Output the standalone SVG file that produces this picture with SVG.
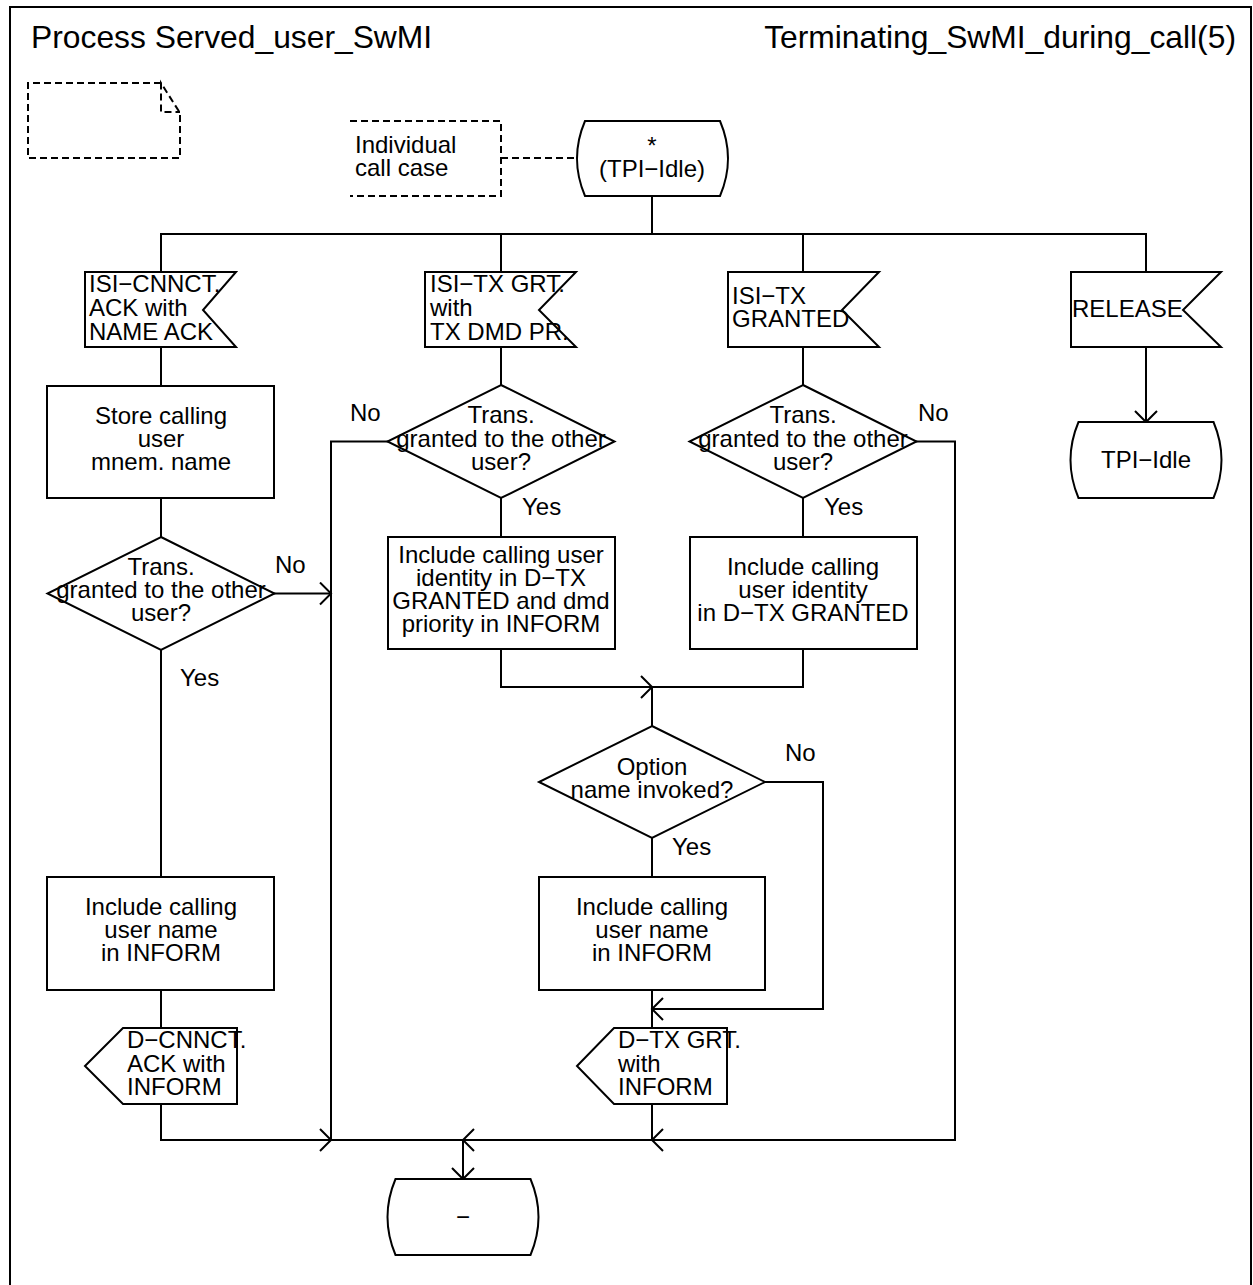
<svg xmlns="http://www.w3.org/2000/svg" width="1253" height="1285" viewBox="0 0 1253 1285">
<style>
.s{fill:#fff;stroke:#000;stroke-width:2}
.c{fill:none;stroke:#000;stroke-width:2}
.d{fill:none;stroke:#000;stroke-width:2;stroke-dasharray:7,4}
text{font-family:"Liberation Sans",Arial,Helvetica,sans-serif;font-size:24px;fill:#000}
.m{text-anchor:middle}
.t{font-size:31.8px}
</style>
<defs>
<marker id="a" viewBox="0 0 24 24" refX="12" refY="12" markerWidth="24" markerHeight="24" markerUnits="userSpaceOnUse" orient="auto">
<path d="M1,1 L12,12 L1,23" fill="none" stroke="#000" stroke-width="2"/>
</marker>
</defs>
<rect x="10" y="7" width="1241" height="1300" fill="#fff" stroke="#000" stroke-width="2"/>
<text class="t" x="31" y="48">Process Served_user_SwMI</text>
<text class="t" x="1236" y="48" text-anchor="end">Terminating_SwMI_during_call(5)</text>

<g id="textsym">
<path class="d" d="M161,83 H28 V158 H180 V113 L161,83 V112 H180"/>
</g>
<g id="comment">
<path class="d" d="M350,121 H501 V196 H350"/>
<text x="355" y="153">Individual</text>
<text x="355" y="176">call case</text>
</g>

<g id="connectors">
<path class="d" d="M501,158 H578"/>
<path class="c" d="M652,196 V234"/>
<path class="c" d="M161,272 V234 H1146 V272"/>
<path class="c" d="M501,234 V272"/>
<path class="c" d="M803,234 V272"/>
<path class="c" d="M161,347 V386"/>
<path class="c" d="M161,498 V537"/>
<path class="c" d="M274,593.5 H331" marker-end="url(#a)"/>
<path class="c" d="M161,650 V877"/>
<path class="c" d="M161,990 V1028"/>
<path class="c" d="M161,1104 V1140 H331" marker-end="url(#a)"/>
<path class="c" d="M501,347 V385"/>
<path class="c" d="M388,441.5 H331 V1140 H463"/>
<path class="c" d="M501,498 V537"/>
<path class="c" d="M501,649 V687 H652" marker-end="url(#a)"/>
<path class="c" d="M803,347 V385"/>
<path class="c" d="M803,498 V537"/>
<path class="c" d="M803,649 V687 H652"/>
<path class="c" d="M916,441.5 H955 V1140 H652" marker-end="url(#a)"/>
<path class="c" d="M652,687 V726"/>
<path class="c" d="M652,838 V877"/>
<path class="c" d="M765,782 H823 V1009 H652" marker-end="url(#a)"/>
<path class="c" d="M652,990 V1028"/>
<path class="c" d="M652,1104 V1140 H463" marker-end="url(#a)"/>
<path class="c" d="M463,1140 V1179" marker-end="url(#a)"/>
<path class="c" d="M1146,347 V422" marker-end="url(#a)"/>
</g>

<g id="state_start">
<path class="s" d="M585,121 H720 Q736,158.5 720,196 H585 Q569,158.5 585,121 Z"/>
<text class="m" x="652" y="154">*</text>
<text class="m" x="652" y="177">(TPI−Idle)</text>
</g>

<g id="in_cnnct">
<polygon class="s" points="85,272 236,272 203,310 236,347 85,347"/>
<text x="89" y="292">ISI−CNNCT.</text>
<text x="89" y="316">ACK with</text>
<text x="89" y="340">NAME ACK</text>
</g>
<g id="in_txgrt">
<polygon class="s" points="425,272 576,272 539,310 576,347 425,347"/>
<text x="430" y="292">ISI−TX GRT.</text>
<text x="430" y="316">with</text>
<text x="430" y="340">TX DMD PR.</text>
</g>
<g id="in_txgranted">
<polygon class="s" points="728,272 879,272 842,310 879,347 728,347"/>
<text x="732" y="304">ISI−TX</text>
<text x="732" y="327">GRANTED</text>
</g>
<g id="in_release">
<polygon class="s" points="1071,272 1221,272 1183,310 1221,347 1071,347"/>
<text x="1072" y="317">RELEASE</text>
</g>
<g id="state_idle">
<path class="s" d="M1078.5,422 H1213.5 Q1229.5,460 1213.5,498 H1078.5 Q1062.5,460 1078.5,422 Z"/>
<text class="m" x="1146" y="468">TPI−Idle</text>
</g>

<g id="task_store">
<rect class="s" x="47" y="386" width="227" height="112"/>
<text class="m" x="161" y="424">Store calling</text>
<text class="m" x="161" y="447">user</text>
<text class="m" x="161" y="470">mnem. name</text>
</g>
<g id="dec1">
<polygon class="s" points="161,537 274.5,593.5 161,650 47.5,593.5"/>
<text class="m" x="161" y="575">Trans.</text>
<text class="m" x="161" y="598">granted to the other</text>
<text class="m" x="161" y="621">user?</text>
</g>
<text x="275" y="573">No</text>
<text x="180" y="686">Yes</text>
<g id="task_name1">
<rect class="s" x="47" y="877" width="227" height="113"/>
<text class="m" x="161" y="915">Include calling</text>
<text class="m" x="161" y="938">user name</text>
<text class="m" x="161" y="961">in INFORM</text>
</g>
<g id="out_cnnct">
<polygon class="s" points="85,1066 123,1028 237,1028 237,1104 123,1104"/>
<text x="127" y="1048">D−CNNCT.</text>
<text x="127" y="1072">ACK with</text>
<text x="127" y="1095">INFORM</text>
</g>

<g id="dec2">
<polygon class="s" points="501,385 614.5,441.5 501,498 387.5,441.5"/>
<text class="m" x="501" y="423">Trans.</text>
<text class="m" x="501" y="447">granted to the other</text>
<text class="m" x="501" y="470">user?</text>
</g>
<text x="350" y="421">No</text>
<text x="522" y="515">Yes</text>
<g id="task_dmd">
<rect class="s" x="388" y="537" width="227" height="112"/>
<text class="m" x="501" y="563">Include calling user</text>
<text class="m" x="501" y="586">identity in D−TX</text>
<text class="m" x="501" y="609">GRANTED and dmd</text>
<text class="m" x="501" y="632">priority in INFORM</text>
</g>

<g id="dec3">
<polygon class="s" points="803,385 916.5,441.5 803,498 689.5,441.5"/>
<text class="m" x="803" y="423">Trans.</text>
<text class="m" x="803" y="447">granted to the other</text>
<text class="m" x="803" y="470">user?</text>
</g>
<text x="918" y="421">No</text>
<text x="824" y="515">Yes</text>
<g id="task_ident">
<rect class="s" x="690" y="537" width="227" height="112"/>
<text class="m" x="803" y="575">Include calling</text>
<text class="m" x="803" y="598">user identity</text>
<text class="m" x="803" y="621">in D−TX GRANTED</text>
</g>

<g id="dec4">
<polygon class="s" points="652,726 765,782 652,838 539,782"/>
<text class="m" x="652" y="775">Option</text>
<text class="m" x="652" y="798">name invoked?</text>
</g>
<text x="785" y="761">No</text>
<text x="672" y="855">Yes</text>
<g id="task_name2">
<rect class="s" x="539" y="877" width="226" height="113"/>
<text class="m" x="652" y="915">Include calling</text>
<text class="m" x="652" y="938">user name</text>
<text class="m" x="652" y="961">in INFORM</text>
</g>
<g id="out_txgrt">
<polygon class="s" points="577,1066 614,1028 727,1028 727,1104 614,1104"/>
<text x="618" y="1048">D−TX GRT.</text>
<text x="618" y="1072">with</text>
<text x="618" y="1095">INFORM</text>
</g>

<g id="state_dash">
<path class="s" d="M395.5,1179 H530.5 Q546.5,1217 530.5,1255 H395.5 Q379.5,1217 395.5,1179 Z"/>
<text class="m" x="463" y="1225">−</text>
</g>
</svg>
